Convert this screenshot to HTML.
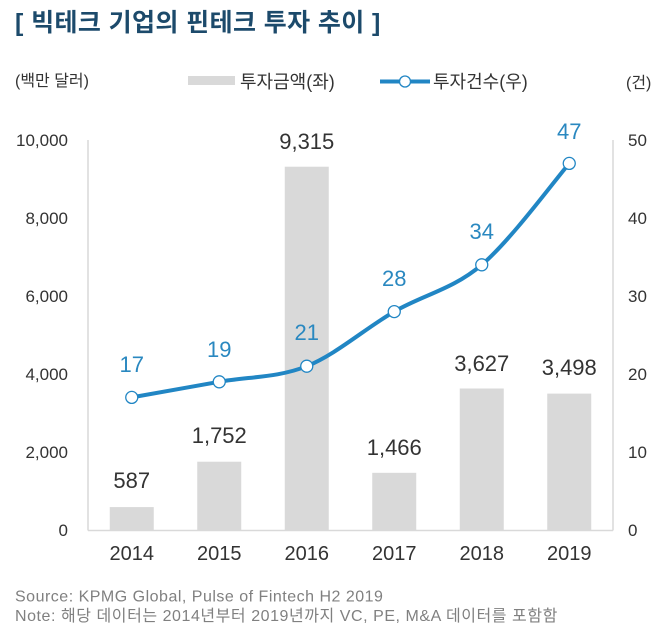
<!DOCTYPE html>
<html>
<head>
<meta charset="utf-8">
<style>
html,body{margin:0;padding:0;background:#fff;}
svg{display:block;}
text{font-family:"Liberation Sans","Noto Sans CJK KR",sans-serif;}
</style>
</head>
<body>
<svg width="670" height="644" viewBox="0 0 670 644" xmlns="http://www.w3.org/2000/svg">
  <!-- Title -->
  <text x="15" y="31" font-size="25" font-weight="bold" fill="#1c4a6b" letter-spacing="0.4">[ 빅테크 기업의 핀테크 투자 추이 ]</text>

  <!-- Units -->
  <text x="15" y="86" font-size="16" fill="#333">(백만 달러)</text>
  <text x="626" y="88" font-size="16" fill="#333">(건)</text>

  <!-- Legend -->
  <rect x="188" y="76" width="47" height="9" fill="#d9d9d9"/>
  <text x="240" y="88" font-size="18" fill="#333">투자금액(좌)</text>
  <line x1="380" y1="81.5" x2="430" y2="81.5" stroke="#2186c4" stroke-width="4"/>
  <circle cx="405" cy="81.5" r="5.5" fill="#fff" stroke="#2186c4" stroke-width="1.3"/>
  <text x="433" y="88" font-size="18" fill="#333">투자건수(우)</text>

  <!-- Axes -->
  <line x1="88" y1="140" x2="88" y2="530.5" stroke="#d9d9d9" stroke-width="1.5"/>
  <line x1="613" y1="140" x2="613" y2="530.5" stroke="#d9d9d9" stroke-width="1.5"/>
  <line x1="88" y1="530.5" x2="613" y2="530.5" stroke="#d9d9d9" stroke-width="1.5"/>

  <!-- Left tick labels -->
  <g font-size="17" fill="#333" text-anchor="end">
    <text x="68" y="146">10,000</text>
    <text x="68" y="224">8,000</text>
    <text x="68" y="302">6,000</text>
    <text x="68" y="380">4,000</text>
    <text x="68" y="458">2,000</text>
    <text x="68" y="536">0</text>
  </g>
  <!-- Right tick labels -->
  <g font-size="17" fill="#333">
    <text x="628" y="146">50</text>
    <text x="628" y="224">40</text>
    <text x="628" y="302">30</text>
    <text x="628" y="380">20</text>
    <text x="628" y="458">10</text>
    <text x="628" y="536">0</text>
  </g>

  <!-- Bars -->
  <g fill="#d9d9d9">
    <rect x="109.75" y="507.1" width="44" height="22.9"/>
    <rect x="197.25" y="461.7" width="44" height="68.3"/>
    <rect x="284.75" y="166.7" width="44" height="363.3"/>
    <rect x="372.25" y="472.8" width="44" height="57.2"/>
    <rect x="459.75" y="388.5" width="44" height="141.5"/>
    <rect x="547.25" y="393.6" width="44" height="136.4"/>
  </g>

  <!-- Bar labels -->
  <g font-size="22" fill="#333" text-anchor="middle">
    <text x="131.75" y="488">587</text>
    <text x="219.25" y="443">1,752</text>
    <text x="306.75" y="149">9,315</text>
    <text x="394.25" y="455">1,466</text>
    <text x="481.75" y="371">3,627</text>
    <text x="569.25" y="375">3,498</text>
  </g>

  <!-- Year labels -->
  <g font-size="20" fill="#333" text-anchor="middle">
    <text x="131.75" y="560">2014</text>
    <text x="219.25" y="560">2015</text>
    <text x="306.75" y="560">2016</text>
    <text x="394.25" y="560">2017</text>
    <text x="481.75" y="560">2018</text>
    <text x="569.25" y="560">2019</text>
  </g>

  <!-- Line -->
  <path d="M131.75,397.4 C146.33,394.8 190.08,387.0 219.25,381.8 C248.42,376.6 277.58,377.9 306.75,366.2 C335.92,354.5 365.08,328.5 394.25,311.6 C423.42,294.7 452.58,289.5 481.75,264.8 C510.92,240.1 554.67,180.3 569.25,163.4"
        fill="none" stroke="#2186c4" stroke-width="4" stroke-linejoin="round" stroke-linecap="round"/>
  <g fill="#fff" stroke="#2186c4" stroke-width="1.3">
    <circle cx="131.75" cy="397.4" r="6"/>
    <circle cx="219.25" cy="381.8" r="6"/>
    <circle cx="306.75" cy="366.2" r="6"/>
    <circle cx="394.25" cy="311.6" r="6"/>
    <circle cx="481.75" cy="264.8" r="6"/>
    <circle cx="569.25" cy="163.4" r="6"/>
  </g>

  <!-- Line labels -->
  <g font-size="22" fill="#2a88c0" text-anchor="middle">
    <text x="131.75" y="372">17</text>
    <text x="219.25" y="357">19</text>
    <text x="306.75" y="340">21</text>
    <text x="394.25" y="286">28</text>
    <text x="481.75" y="239">34</text>
    <text x="569.25" y="139">47</text>
  </g>

  <!-- Footer -->
  <text x="15" y="601.5" font-size="16" fill="#808080" letter-spacing="0.5">Source: KPMG Global, Pulse of Fintech H2 2019</text>
  <text x="15" y="621" font-size="16" fill="#808080" letter-spacing="0.55">Note: 해당 데이터는 2014년부터 2019년까지 VC, PE, M&amp;A 데이터를 포함함</text>
</svg>
</body>
</html>
